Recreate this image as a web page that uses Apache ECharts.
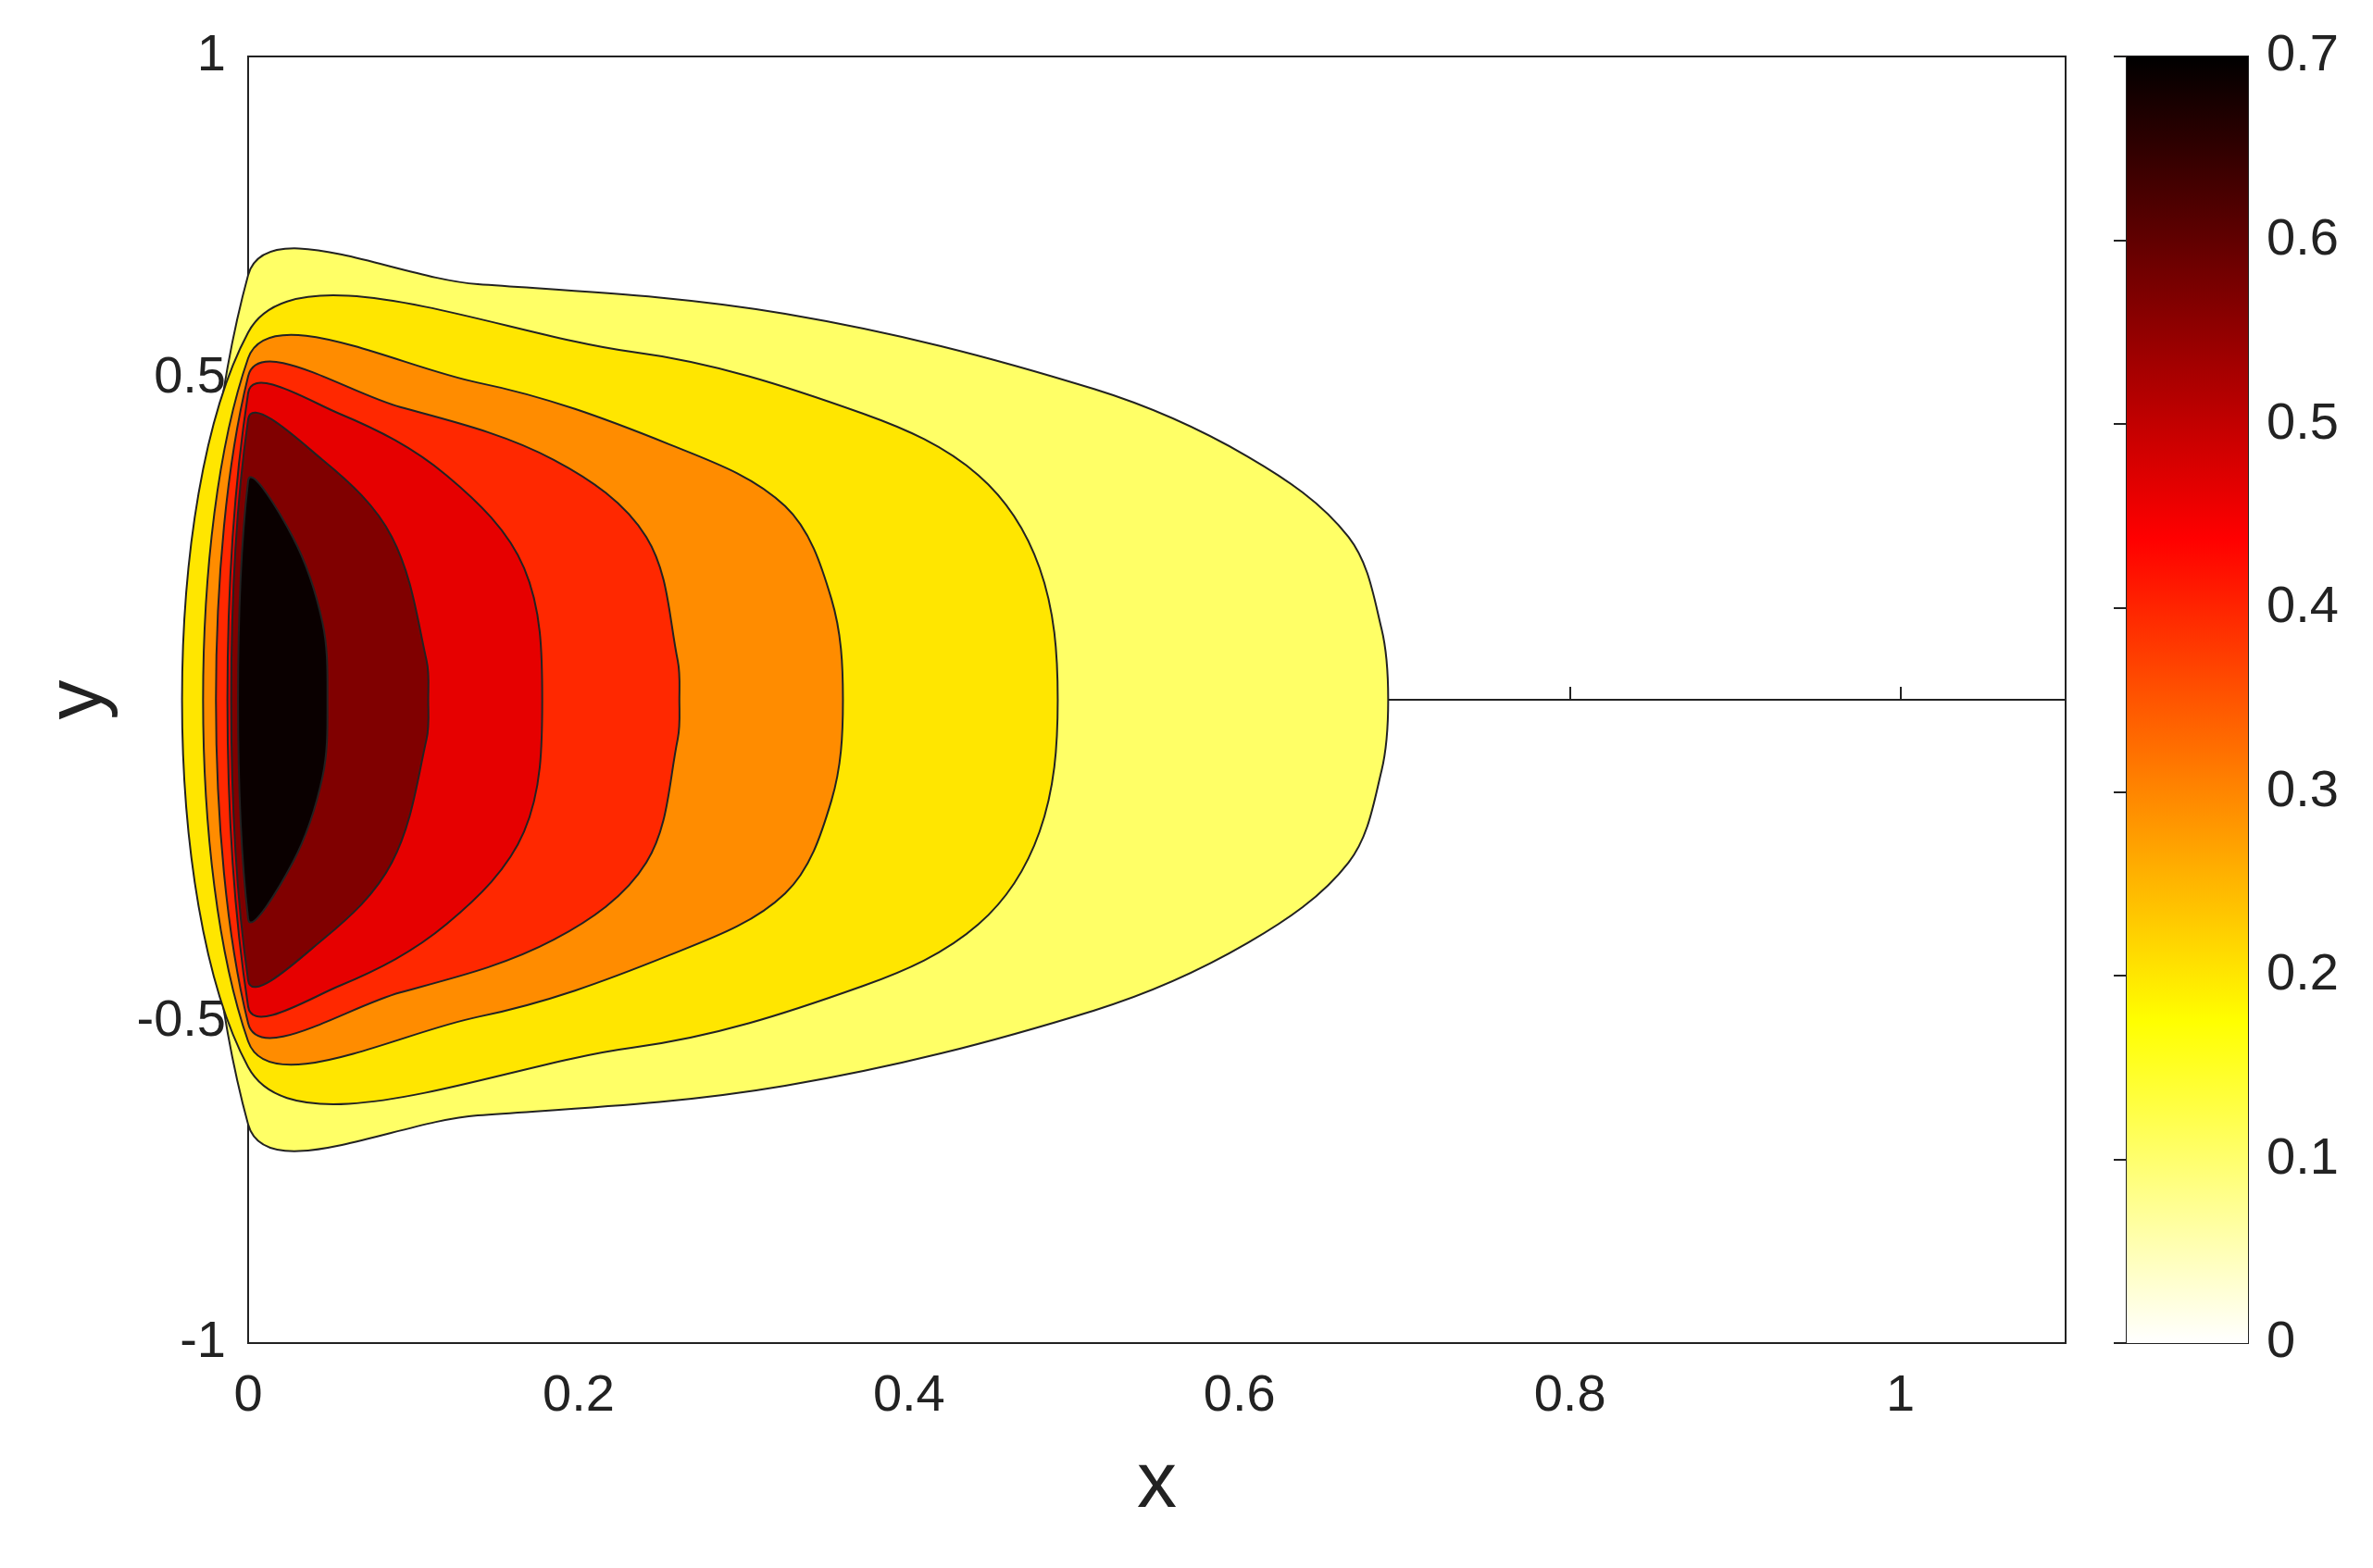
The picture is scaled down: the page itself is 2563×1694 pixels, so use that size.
<!DOCTYPE html>
<html>
<head>
<meta charset="utf-8">
<script src="https://cdn.jsdelivr.net/npm/echarts@6/dist/echarts.min.js"></script>
<style>html,body{margin:0;padding:0;background:#fff}#container{width:2563px;height:1694px}</style>
</head>
<body>
<div id="container"></div>
<script>
// contour boundaries (upper half, x from 0 to tip), outer to inner
var levelColors = ['#FFFF66', '#FFE600', '#FF8C00', '#FF2800', '#E60000', '#800000', '#0A0000'];
var contours = [
	[[0, 0.66], [0.139, 0.646], [0.325, 0.60], [0.512, 0.483], [0.605, 0.378], [0.666, 0.253], [0.686, 0.11], [0.69, 0]],
	[[0, 0.571], [0.232, 0.541], [0.372, 0.445], [0.442, 0.349], [0.479, 0.205], [0.49, 0]],
	[[0, 0.531], [0.139, 0.493], [0.255, 0.397], [0.325, 0.301], [0.353, 0.157], [0.36, 0]],
	[[0, 0.503], [0.092, 0.455], [0.185, 0.373], [0.241, 0.253], [0.26, 0.061], [0.261, 0]],
	[[0, 0.477], [0.055, 0.445], [0.120, 0.349], [0.167, 0.205], [0.178, 0]],
	[[0, 0.436], [0.045, 0.373], [0.087, 0.253], [0.108, 0.061], [0.109, 0]],
	[[0, 0.34], [0.027, 0.253], [0.045, 0.12], [0.048, 0]]
];
var xTicks = [0, 0.2, 0.4, 0.6, 0.8, 1];
var yTicks = [-1, -0.5, 0, 0.5, 1];
var cbTicks = [0, 0.1, 0.2, 0.3, 0.4, 0.5, 0.6, 0.7];

var font = 'Liberation Sans, Arial, sans-serif';
var dom = document.getElementById('container');
var myChart = echarts.init(dom);

function closedRing(pts) {
	var ring = pts.slice();
	for (var i = pts.length - 2; i >= 0; i--) {
		ring.push([pts[i][0], -pts[i][1]]);
	}
	return ring;
}

var series = [];
contours.forEach(function (pts, k) {
	var ring = closedRing(pts);
	series.push({
		type: 'custom',
		xAxisIndex: 0, yAxisIndex: 0,
		data: [0],
		renderItem: function (params, api) {
			var p = ring.map(function (d) { return api.coord(d); });
			return {
				type: 'polygon',
				shape: { points: p, smooth: 0.35 },
				style: { fill: levelColors[k], stroke: '#222', lineWidth: 2 }
			};
		},
		z: 2 + k
	});
});

// colorbar
series.push({
	type: 'custom',
	xAxisIndex: 1, yAxisIndex: 1,
	data: [0],
	renderItem: function (params, api) {
		var a = api.coord([0, 0.7]);
		var b = api.coord([1, 0]);
		return {
			type: 'rect',
			shape: { x: a[0], y: a[1], width: b[0] - a[0], height: b[1] - a[1] },
			style: {
				fill: new echarts.graphic.LinearGradient(0, 1, 0, 0, [
					{ offset: 0, color: '#FFFFFF' },
					{ offset: 0.25, color: '#FFFF00' },
					{ offset: 0.625, color: '#FF0000' },
					{ offset: 1, color: '#000000' }
				])
			}
		};
	}
});

var axisLine = { show: true, lineStyle: { color: '#222', width: 2 } };
var tickStyle = { show: true, inside: true, length: 14, lineStyle: { color: '#222', width: 2 } };
var label = { color: '#222', fontSize: 56, fontFamily: font };

option = {
	animation: false,
	grid: [
		{ left: 268, top: 61, width: 1963, height: 1390, show: true, borderColor: '#222', borderWidth: 2 },
		{ left: 2297, top: 61, width: 131, height: 1390, show: true, borderColor: '#222', borderWidth: 2 }
	],
	xAxis: [
		{
			gridIndex: 0, type: 'value', min: 0, max: 1.1, interval: 0.2,
			axisLine: axisLine, axisTick: tickStyle, splitLine: { show: false },
			axisLabel: Object.assign({ margin: 30, showMaxLabel: false }, label),
			name: 'x', nameLocation: 'middle', nameGap: 110,
			nameTextStyle: { color: '#222', fontSize: 86, fontFamily: font }
		},
		{ gridIndex: 1, type: 'value', min: 0, max: 1, show: false }
	],
	yAxis: [
		{
			gridIndex: 0, type: 'value', min: -1, max: 1, interval: 0.5,
			axisLine: axisLine, axisTick: tickStyle, splitLine: { show: false },
			axisLabel: Object.assign({ margin: 24 }, label),
			name: 'y', nameLocation: 'middle', nameGap: 140, nameRotate: 90,
			nameTextStyle: { color: '#222', fontSize: 86, fontFamily: font }
		},
		{
			gridIndex: 1, type: 'value', min: 0, max: 0.7, interval: 0.1, position: 'right',
			axisLine: axisLine, axisTick: tickStyle, splitLine: { show: false },
			axisLabel: Object.assign({ margin: 20 }, label)
		}
	],
	series: series
};

myChart.setOption(option, true);
</script>
</body>
</html>
